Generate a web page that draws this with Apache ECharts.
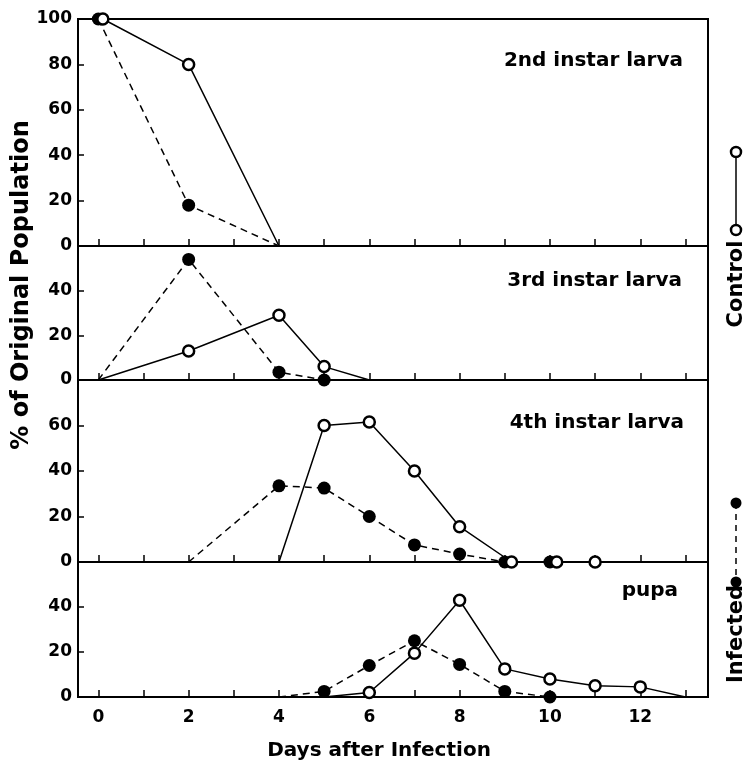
<!DOCTYPE html>
<html>
<head>
<meta charset="utf-8">
<script src="https://cdn.jsdelivr.net/npm/echarts@6/dist/echarts.min.js"></script>
<style>
html, body { margin: 0; padding: 0; background: #fff; }
#chart { width: 744px; height: 763px; }
</style>
</head>
<body>
<div id="chart"></div>
<script>
// [day, % of original population]
const larva2Infected = [[0, 100], [2, 18], [4, 0]];
const larva2Control = [[0.1, 100], [2, 80], [4, 0]];
const larva3Infected = [[0, 0], [2, 54], [4, 3.5], [5, 0]];
const larva3Control = [[0, 0], [2, 13], [4, 29], [5, 6], [6, 0]];
const larva4Infected = [[2, 0], [4, 33.5], [5, 32.5], [6, 20], [7, 7.5], [8, 3.5], [9, 0], [10, 0]];
const larva4Control = [[4, 0], [5, 60], [6, 61.5], [7, 40], [8, 15.5], [9.15, 0], [10.15, 0], [11, 0]];
const pupaInfected = [[4, 0], [5, 2.5], [6, 14], [7, 25], [8, 14.5], [9, 2.5], [10, 0]];
const pupaControl = [[5, 0], [6, 2], [7, 19.5], [8, 43], [9, 12.5], [10, 8], [11, 5], [12, 4.5], [13, 0]];

// days where a line starts or ends without a symbol
const larva2InfectedBare = [4];
const larva2ControlBare = [4];
const larva3InfectedBare = [0];
const larva3ControlBare = [0, 6];
const larva4InfectedBare = [2];
const larva4ControlBare = [4];
const pupaInfectedBare = [4];
const pupaControlBare = [5, 13];

const stageNames = ['2nd instar larva', '3rd instar larva', '4th instar larva', 'pupa'];
const yMax = [100, 60, 80, 60];
const dayTicks = [0, 1, 2, 3, 4, 5, 6, 7, 8, 9, 10, 11, 12, 13];
const dayLabels = [0, 2, 4, 6, 8, 10, 12];

const FONT = 'DejaVu Sans';
var chart = echarts.init(document.getElementById('chart'));

var tops = [19, 246, 380, 562];
var heights = [227, 134, 182, 135];
var labelY = [61, 281, 423, 591];
var labelRight = [683, 682, 684, 678];

var grids = [], xAxes = [], yAxes = [], series = [];
for (var i = 0; i < 4; i++) {
  grids.push({
    left: 78, top: tops[i], width: 630, height: heights[i],
    show: true, borderColor: '#000', borderWidth: 2
  });
  var last = i === 3;
  xAxes.push({
    type: 'value', gridIndex: i, min: -0.45, max: 13.5,
    axisLine: { show: true, onZero: false, lineStyle: { color: '#000', width: 2 } },
    axisTick: { show: true, inside: true, length: 7, customValues: dayTicks, lineStyle: { color: '#000', width: 1.5 } },
    axisLabel: {
      show: last, customValues: dayLabels, margin: 12,
      color: '#000', fontFamily: FONT, fontWeight: 'bold', fontSize: 17
    },
    splitLine: { show: false },
    name: last ? 'Days after Infection' : '',
    nameLocation: 'middle', nameGap: 44,
    nameTextStyle: { color: '#000', fontFamily: FONT, fontWeight: 'bold', fontSize: 20, padding: [0, 28, 0, 0] }
  });
  yAxes.push({
    type: 'value', gridIndex: i, min: 0, max: yMax[i], interval: 20,
    axisLine: { show: true, onZero: false, lineStyle: { color: '#000', width: 2 } },
    axisTick: { show: true, inside: true, length: 6, lineStyle: { color: '#000', width: 1.5 } },
    axisLabel: {
      showMaxLabel: i === 0, margin: 6,
      color: '#000', fontFamily: FONT, fontWeight: 'bold', fontSize: 17
    },
    splitLine: { show: false }
  });
}

function pts(data, bare) {
  return data.map(function (d) {
    return bare.indexOf(d[0]) >= 0 ? { value: d, symbol: 'none' } : { value: d };
  });
}
function infected(data, bare, g) {
  return {
    type: 'line', xAxisIndex: g, yAxisIndex: g, data: pts(data, bare),
    symbol: 'circle', symbolSize: 13, z: 3,
    lineStyle: { color: '#000', width: 1.5, type: [7, 5] },
    itemStyle: { color: '#000' },
    animation: false
  };
}
function control(data, bare, g) {
  return {
    type: 'line', xAxisIndex: g, yAxisIndex: g, data: pts(data, bare),
    symbol: 'circle', symbolSize: 11, z: 4,
    lineStyle: { color: '#000', width: 1.5 },
    itemStyle: { color: '#fff', borderColor: '#000', borderWidth: 2.5 },
    animation: false
  };
}
series.push(infected(larva2Infected, larva2InfectedBare, 0));
series.push(control(larva2Control, larva2ControlBare, 0));
series.push(infected(larva3Infected, larva3InfectedBare, 1));
series.push(control(larva3Control, larva3ControlBare, 1));
series.push(infected(larva4Infected, larva4InfectedBare, 2));
series.push(control(larva4Control, larva4ControlBare, 2));
series.push(infected(pupaInfected, pupaInfectedBare, 3));
series.push(control(pupaControl, pupaControlBare, 3));

var txt = { fill: '#000', fontFamily: FONT, fontWeight: 'bold' };
var graphic = [];
stageNames.forEach(function (s, i) {
  graphic.push({
    type: 'text', x: labelRight[i], y: labelY[i],
    style: Object.assign({ text: s, fontSize: 20, align: 'right', verticalAlign: 'middle' }, txt)
  });
});
graphic.push({
  type: 'text', x: 22, y: 285, rotation: Math.PI / 2,
  style: Object.assign({ text: '% of Original Population', fontSize: 24, align: 'center', verticalAlign: 'middle' }, txt)
});
// right-hand key
graphic.push(
  { type: 'line', shape: { x1: 736, y1: 152, x2: 736, y2: 230 }, style: { stroke: '#000', lineWidth: 1.5 } },
  { type: 'circle', shape: { cx: 736, cy: 152, r: 5 }, style: { fill: '#fff', stroke: '#000', lineWidth: 2.5 } },
  { type: 'circle', shape: { cx: 736, cy: 230, r: 5 }, style: { fill: '#fff', stroke: '#000', lineWidth: 2.5 } },
  { type: 'text', x: 737, y: 284, rotation: Math.PI / 2,
    style: Object.assign({ text: 'Control', fontSize: 21, align: 'center', verticalAlign: 'middle' }, txt) },
  { type: 'line', shape: { x1: 736, y1: 503, x2: 736, y2: 582 }, style: { stroke: '#000', lineWidth: 1.5, lineDash: [6, 5] } },
  { type: 'circle', shape: { cx: 736, cy: 503, r: 5.5 }, style: { fill: '#000' } },
  { type: 'circle', shape: { cx: 736, cy: 582, r: 5.5 }, style: { fill: '#000' } },
  { type: 'text', x: 737, y: 634, rotation: Math.PI / 2,
    style: Object.assign({ text: 'Infected', fontSize: 21, align: 'center', verticalAlign: 'middle' }, txt) }
);

var option = {
  backgroundColor: '#fff',
  animation: false,
  grid: grids,
  xAxis: xAxes,
  yAxis: yAxes,
  series: series,
  graphic: graphic
};
chart.setOption(option);
</script>
</body>
</html>
